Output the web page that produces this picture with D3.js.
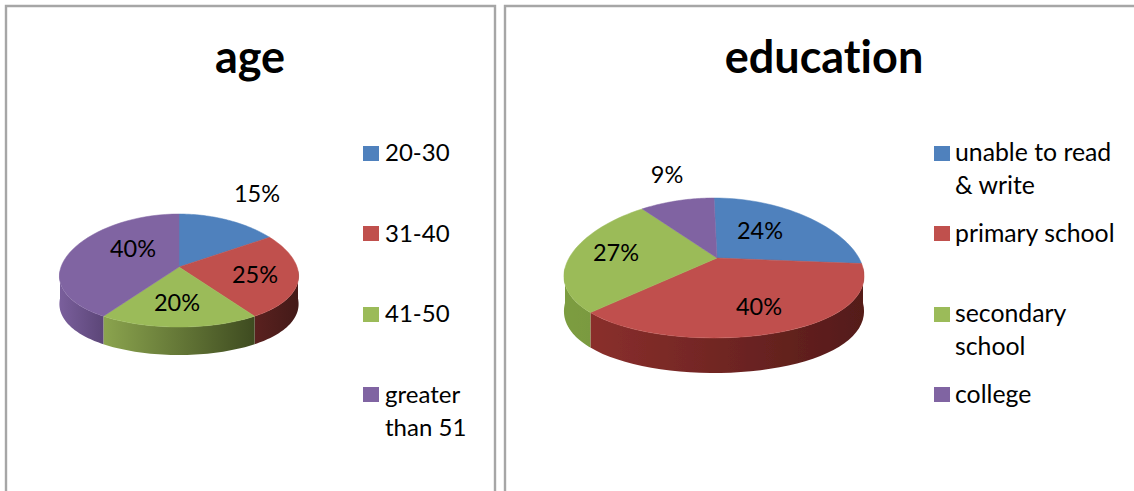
<!DOCTYPE html>
<html><head><meta charset="utf-8">
<script src="https://cdn.jsdelivr.net/npm/d3@7/dist/d3.min.js"></script>
<style>html,body{margin:0;padding:0;background:#fff;overflow:hidden}svg{display:block}text{font-family:Lato,"Open Sans",sans-serif;fill:#000;font-variant-ligatures:none}</style>
</head><body><svg id="c" width="1134" height="491"></svg>
<script>
const ageCategories = ["20-30","31-40","41-50","greater than 51"];
const ageValues = [15,25,20,40];
const eduCategories = ["unable to read & write","primary school","secondary school","college"];
const eduValues = [24,40,27,9];
const topColors = ["#4f81bd","#c0504d","#9bbb59","#8064a2"];
const wallColors = [["#3d648f","#2f4d70"],["#5a211f","#431a18"],["#8ba44e","#3e4b20"],["#7a5f9c","#5c4678"]];
const eduWallColors = [["#3d648f","#2f4d70"],["#8a2f2c","#541b19"],["#7c9d3f","#7a9a40"],["#7a5f9c","#5c4678"]];

const svg = d3.select("#c");
const defs = svg.append("defs");
defs.append("filter").attr("id","soft").append("feGaussianBlur").attr("stdDeviation",0.7);

// panel frames
const frame = d3.path();
frame.moveTo(6,491); frame.lineTo(6,6); frame.lineTo(495,6); frame.lineTo(495,491);
frame.moveTo(505,491); frame.lineTo(505,6); frame.lineTo(1134,6);
svg.append("path").attr("d",frame.toString()).attr("fill","none").attr("stroke","#a6a6a6").attr("stroke-width",2.4);

function pie3d(o){
  const g = svg.append("g").attr("filter",o.soft?"url(#soft)":null);
  const arcs = d3.pie().sort(null).value(d=>d)(o.values);
  // ellipse with a slight perspective: the near edge is spread wider than the far edge
  const px = t => o.cx + o.rx*Math.sin(t)*(1-o.persp*Math.cos(t)), py = t => o.cy - o.ry*Math.cos(t);
  const samples = (a,b) => d3.range(0,41).map(i=>a+(b-a)*i/40);
  const lo = Math.PI/2, hi = 3*Math.PI/2;
  // side walls
  arcs.forEach((d,i)=>{
    const a = Math.max(d.startAngle,lo), b = Math.min(d.endAngle,hi);
    if (b<=a) return;
    const id = o.id+"w"+i;
    const gr = defs.append("linearGradient").attr("id",id);
    gr.append("stop").attr("offset",0).attr("stop-color",o.walls[i][0]);
    gr.append("stop").attr("offset",1).attr("stop-color",o.walls[i][1]);
    const ts = samples(a,b);
    const pts = ts.map(t=>[px(t),py(t)]).concat(ts.slice().reverse().map(t=>[px(t),py(t)+o.depth]));
    g.append("path").attr("d",d3.line()(pts)+"Z").attr("fill",`url(#${id})`);
  });
  // top faces
  arcs.forEach((d,i)=>{
    const pts = [[o.ax,o.ay]].concat(samples(d.startAngle,d.endAngle).map(t=>[px(t),py(t)]));
    g.append("path").attr("d",d3.line()(pts)+"Z").attr("fill",topColors[i]).attr("stroke",topColors[i]).attr("stroke-width",0.5);
  });
  // percentage labels
  svg.append("g").selectAll("text").data(o.values).join("text")
    .attr("x",(d,i)=>o.labels[i][0]).attr("y",(d,i)=>o.labels[i][1])
    .attr("text-anchor","middle").attr("font-size",23.5).text(d=>d+"%");
  // title
  svg.append("text").attr("x",o.titleX).attr("y",72.5).attr("text-anchor","middle")
    .attr("font-size",45).attr("font-weight",700).text(o.title);
  // legend
  o.categories.forEach((c,i)=>{
    const l = o.legend[i];
    svg.append("rect").attr("x",o.lx).attr("y",l.sy).attr("width",16).attr("height",15).attr("fill",topColors[i]);
    l.lines.forEach((t,j)=>svg.append("text").attr("x",o.lx+o.tx).attr("y",l.y+j*33).attr("font-size",o.legendSize).text(t));
  });
}

pie3d({id:"age",title:"age",titleX:250,values:ageValues,categories:ageCategories,
  cx:179,cy:270.5,rx:119,ry:56.5,ax:179,ay:267,depth:28,persp:0.1,walls:wallColors,
  labels:[[257,202],[255,283],[177,311],[133,257]],
  lx:363,tx:22,legendSize:24,
  legend:[{sy:146,y:161,lines:["20-30"]},{sy:226,y:242,lines:["31-40"]},{sy:307,y:322,lines:["41-50"]},{sy:387,y:403,lines:["greater","than 51"]}]});

pie3d({id:"edu",title:"education",titleX:824,values:eduValues,categories:eduCategories,soft:true,
  cx:714,cy:268,rx:149,ry:70,ax:717,ay:258,depth:35,persp:0.12,walls:eduWallColors,
  labels:[[760,239],[759,315],[616,261],[667,183]],
  lx:934,tx:21,legendSize:24.8,
  legend:[{sy:146,y:161,lines:["unable to read","& write"]},{sy:226,y:242,lines:["primary school"]},{sy:307,y:322,lines:["secondary","school"]},{sy:387,y:403,lines:["college"]}]});
</script></body></html>
